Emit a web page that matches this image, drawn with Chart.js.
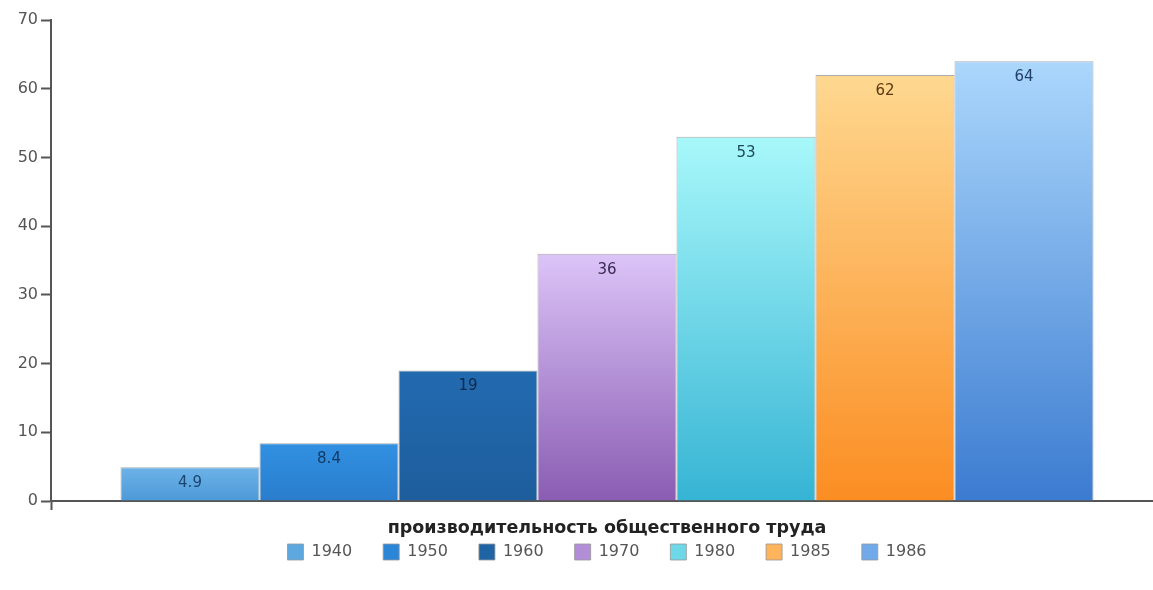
<!DOCTYPE html>
<html>
<head>
<meta charset="UTF-8">
<script src="https://cdn.jsdelivr.net/npm/chart.js@4.4.1/dist/chart.umd.min.js"></script>
<style>
  html, body { margin: 0; padding: 0; background: #fff; overflow: hidden; }
  #wrap { width: 1163px; height: 590px; }
</style>
</head>
<body>
<div id="wrap"><canvas id="chart"></canvas></div>
<script>
// data
var category = ['производительность общественного труда'];
var years = ['1940', '1950', '1960', '1970', '1980', '1985', '1986'];
var values = [4.9, 8.4, 19, 36, 53, 62, 64];
var yTicks = [0, 10, 20, 30, 40, 50, 60, 70];

// colours: top of bar, bottom of bar, legend box, label text
var topColors = ['#6cb2e8', '#3190e2', '#226ab0', '#dcc4f8', '#a8f8fa', '#fed890', '#abd7fc'];
var bottomColors = ['#4d9ad8', '#2a7dcc', '#1d5d9c', '#8a5cb2', '#36b4d4', '#fb8d22', '#3b7bd0'];
var legendColors = ['#5ea8e0', '#2c86d8', '#2064a6', '#b28ed8', '#6ed8e8', '#fdb45c', '#72a9e8'];
var labelColors = ['#1d4470', '#143a66', '#0f2a48', '#3a2a55', '#1c4a55', '#5a3a10', '#24406a'];

var FONT = 'DejaVu Sans';

function barGradient(ctx, i) {
  var chart = ctx.chart;
  var y = chart.scales.y;
  if (!chart.chartArea || !y) return legendColors[i];
  var top = y.getPixelForValue(values[i]);
  var bottom = y.getPixelForValue(0);
  var g = chart.ctx.createLinearGradient(0, top, 0, bottom);
  g.addColorStop(0, topColors[i]);
  g.addColorStop(1, bottomColors[i]);
  return g;
}

var datasets = years.map(function (yr, i) {
  return {
    label: yr,
    data: [values[i]],
    backgroundColor: function (ctx) { return barGradient(ctx, i); },
    borderColor: 'rgba(150,150,150,0.8)',
    borderWidth: 1,
    borderSkipped: 'bottom',
    categoryPercentage: 0.875,
    barPercentage: 1
  };
});

// value labels inside the top of each bar + category name under the axis
var valueLabels = {
  id: 'valueLabels',
  afterDatasetsDraw: function (chart) {
    var c = chart.ctx;
    var area = chart.chartArea;
    c.save();
    c.font = '15px "' + FONT + '"';
    c.textAlign = 'center';
    c.textBaseline = 'middle';
    chart.data.datasets.forEach(function (ds, i) {
      var el = chart.getDatasetMeta(i).data[0];
      c.fillStyle = labelColors[i];
      c.fillText(String(values[i]), el.x, el.y + 16);
    });
    c.font = 'bold 17.5px "' + FONT + '"';
    c.fillStyle = '#222';
    c.fillText(chart.data.labels[0], chart.scales.x.getPixelForValue(0), area.bottom + 27);
    c.restore();
  }
};

new Chart(document.getElementById('chart'), {
  type: 'bar',
  data: { labels: category, datasets: datasets },
  plugins: [valueLabels],
  options: {
    responsive: true,
    maintainAspectRatio: false,
    animation: false,
    layout: { padding: { left: 0, right: 0, top: 20, bottom: 20 } },
    plugins: {
      tooltip: { enabled: false },
      legend: {
        position: 'bottom',
        fullSize: false,
        labels: {
          boxWidth: 16,
          boxHeight: 16,
          padding: 31,
          color: '#555',
          font: { family: FONT, size: 16 },
          generateLabels: function (chart) {
            return years.map(function (yr, i) {
              return {
                text: yr,
                fillStyle: legendColors[i],
                strokeStyle: 'rgba(150,150,150,0.8)',
                lineWidth: 1,
                datasetIndex: i,
                fontColor: '#555'
              };
            });
          }
        }
      }
    },
    scales: {
      x: {
        afterFit: function (axis) { axis.height = 12; },
        border: { display: true, color: '#555', width: 2 },
        grid: {
          offset: true,
          drawOnChartArea: false,
          drawTicks: true,
          tickLength: 9,
          tickWidth: 2,
          tickColor: function (ctx) { return ctx.index === 0 ? '#555' : 'rgba(0,0,0,0)'; }
        },
        ticks: { display: false }
      },
      y: {
        min: 0,
        max: 70,
        afterBuildTicks: function (axis) {
          axis.ticks = yTicks.map(function (v) { return { value: v }; });
        },
        afterFit: function (axis) { axis.width = 51; },
        border: { display: true, color: '#555', width: 2 },
        grid: {
          drawOnChartArea: false,
          drawTicks: true,
          tickLength: 10,
          tickWidth: 2,
          tickColor: '#555'
        },
        ticks: {
          color: '#555',
          padding: 3,
          font: { family: FONT, size: 16 }
        }
      }
    }
  }
});
</script>
</body>
</html>
